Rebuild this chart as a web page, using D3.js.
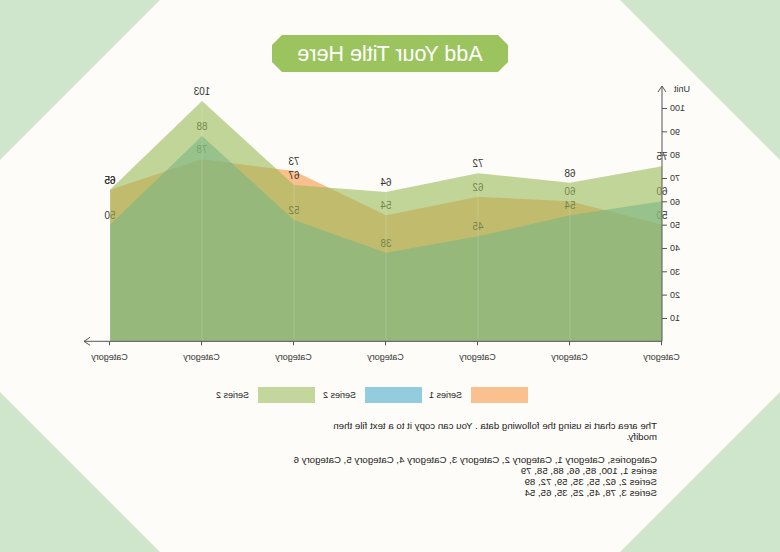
<!DOCTYPE html>
<html><head><meta charset="utf-8">
<script src="https://cdn.jsdelivr.net/npm/d3@7"></script>
<style>html,body{margin:0;padding:0;background:#fdfcf8;}svg{display:block;}</style>
</head><body>
<svg id="chart" width="780" height="552"></svg>
<script>
const categories = ["Category","Category","Category","Category","Category","Category","Category"];
const series1 = [50, 60, 62, 54, 73, 78, 65];
const series2 = [60, 54, 45, 38, 52, 88, 50];
const series3 = [75, 68, 72, 64, 67, 103, 65];
const seriesNames = ["Series 1", "Series 2", "Series 2"];
const yTicks = [10,20,30,40,50,60,70,80,90,100];
const title = "Add Your Title Here";
const noteLines = [
  "The area chart is using the following data . You can copy it to a text file then",
  "modify.",
  "",
  "Categories, Category 1, Category 2, Category 3, Category 4, Category 5, Category 6",
  "series 1, 100, 85, 66, 88, 58, 79",
  "Series 2, 62, 55, 35, 59, 72, 89",
  "Series 3, 78, 45, 25, 35, 65, 54"
];

const W = 780, H = 552;
const areaColors = ["#F79646", "#4BACC6", "#9BBB59"];
const legendColors = ["#FAC090", "#93CDDD", "#C3D69B"];
const font = "'Liberation Sans', Arial, sans-serif";

const svg = d3.select("#chart");
svg.append("rect").attr("width", W).attr("height", H).attr("fill", "#fdfcf8");
// mirrored drawing group
const root = svg.append("g").attr("transform", `translate(${W},0) scale(-1,1)`);

// corner triangles
const cs = 160, cc = "#cfe6cc";
[[[0,0],[cs,0],[0,cs]], [[W,0],[W-cs,0],[W,cs]], [[0,H],[cs,H],[0,H-cs]], [[W,H],[W-cs,H],[W,H-cs]]]
  .forEach(p => root.append("polygon").attr("points", p.map(d => d.join(",")).join(" ")).attr("fill", cc));

// title
const tx0 = 272, tx1 = 508, ty0 = 35, ty1 = 72, ch = 10;
root.append("polygon")
  .attr("points", [[tx0+ch,ty0],[tx1-ch,ty0],[tx1,ty0+ch],[tx1,ty1-ch],[tx1-ch,ty1],[tx0+ch,ty1],[tx0,ty1-ch],[tx0,ty0+ch]].map(d=>d.join(",")).join(" "))
  .attr("fill", "#9cc45e");
root.append("text").attr("x", (tx0+tx1)/2).attr("y", 61).attr("text-anchor", "middle")
  .attr("font-family", font).attr("font-size", 21.5).attr("fill", "#fff").text(title);

// scales
const x = d3.scalePoint().domain(d3.range(categories.length)).range([118, 670]);
const y = d3.scaleLinear().domain([0, 100]).range([341.3, 108]);

const area = d3.area().x((d, i) => x(i)).y0(y(0)).y1(d => y(d));
const allSeries = [series1, series2, series3];

allSeries.forEach((s, k) => {
  root.append("path").datum(s).attr("d", area).attr("fill", areaColors[k]).attr("fill-opacity", 0.6);
  root.append("g").selectAll("text").data(s).join("text")
    .attr("x", (d, i) => x(i)).attr("y", d => y(d) - 6)
    .attr("text-anchor", "middle").attr("font-family", font).attr("font-size", 10)
    .attr("fill", "#333").text(d => d);
});

// faint vertical lines at category positions
root.append("g").selectAll("line").data(d3.range(categories.length)).join("line")
  .attr("x1", i => x(i)).attr("x2", i => x(i))
  .attr("y1", i => y(d3.max(allSeries, s => s[i]))).attr("y2", y(0))
  .attr("stroke", "#fff").attr("stroke-opacity", 0.15).attr("stroke-width", 1);

// y axis
const axisColor = "#555";
const yAxis = root.append("g").attr("transform", `translate(118,0)`)
  .call(d3.axisLeft(y).tickValues(yTicks).tickSize(5).tickPadding(3));
yAxis.select(".domain").remove();
yAxis.selectAll("line").attr("stroke", axisColor);
yAxis.selectAll("text").attr("font-family", font).attr("font-size", 9).attr("fill", "#333");
root.append("line").attr("x1", 118).attr("x2", 118).attr("y1", y(0)).attr("y2", 86).attr("stroke", axisColor);
root.append("path").attr("d", "M114,92 L118,86 L122,92").attr("fill", "none").attr("stroke", axisColor);
root.append("text").attr("x", 106).attr("y", 92).attr("text-anchor", "end")
  .attr("font-family", font).attr("font-size", 9).attr("fill", "#333").text("Unit");

// x axis
const xAxis = root.append("g").attr("transform", `translate(0,${y(0)})`)
  .call(d3.axisBottom(x).tickSize(4).tickPadding(8).tickFormat(i => categories[i]));
xAxis.select(".domain").remove();
xAxis.selectAll("line").attr("stroke", axisColor);
xAxis.selectAll("text").attr("font-family", font).attr("font-size", 9).attr("fill", "#333");
root.append("line").attr("x1", 118).attr("x2", 696).attr("y1", y(0)).attr("y2", y(0)).attr("stroke", axisColor);
root.append("path").attr("d", `M690,${y(0)-4} L696,${y(0)} L690,${y(0)+4}`).attr("fill", "none").attr("stroke", axisColor);

// legend
const legX = [252, 358, 465];
seriesNames.forEach((n, k) => {
  root.append("rect").attr("x", legX[k]).attr("y", 387).attr("width", 57).attr("height", 16).attr("fill", legendColors[k]);
  root.append("text").attr("x", legX[k] + 66).attr("y", 398).attr("font-family", font).attr("font-size", 9)
    .attr("fill", "#222").text(n);
});

// note text
noteLines.forEach((t, i) => {
  root.append("text").attr("x", 123).attr("y", 429 + i * 11.2).attr("font-family", font).attr("font-size", 9.7)
    .attr("fill", "#222").text(t);
});
</script>
</body></html>
